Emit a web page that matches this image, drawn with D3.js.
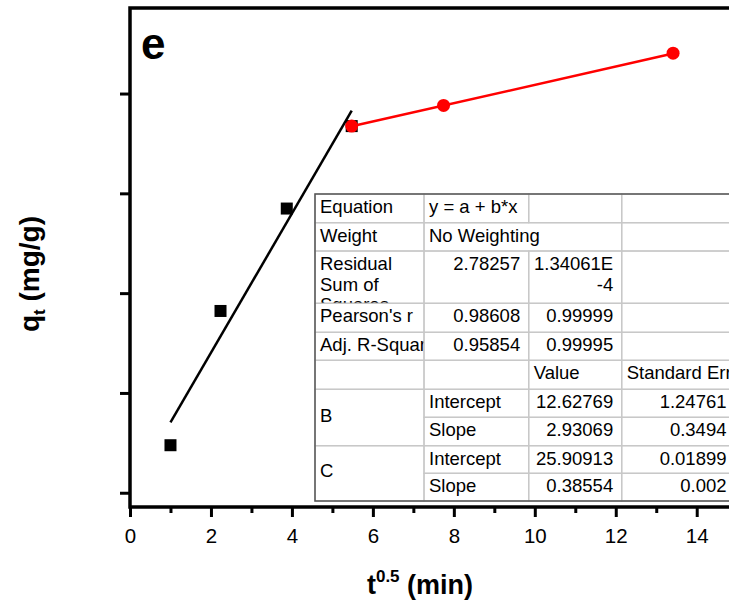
<!DOCTYPE html>
<html>
<head>
<meta charset="utf-8">
<script src="https://cdn.jsdelivr.net/npm/d3@7"></script>
<style>
  body { margin: 0; background: #fff; }
  svg { display: block; }
</style>
</head>
<body>
<svg width="729" height="603"></svg>
<script>
// stage B (film diffusion) and stage C (equilibrium) points
let tSqrtB = [1, 2.236, 3.873, 5.477];
let qtB = [14.6, 20.25, 24.56, 28.03];
let tSqrtC = [5.477, 7.746, 13.416];
let qtC = [28.03, 28.9, 31.1];

let xTicks = [0, 2, 4, 6, 8, 10, 12, 14];
let xMinorTicks = [1, 3, 5, 7, 9, 11, 13, 15];
let yTicks = [12.6, 16.8, 21.0, 25.2, 29.4];

// linear fit results (Origin table)
let fitNames = ["B", "C"];
let intercepts = [12.62769, 25.90913];
let interceptErrs = [1.24761, 0.01899];
let slopes = [2.93069, 0.38554];
let slopeErrs = [0.3494, 0.002];
let statLabels = ["Equation", "Weight", "Residual Sum of Squares", "Pearson's r", "Adj. R-Square"];
let statB = ["y = a + b*x", "No Weighting", "2.78257", "0.98608", "0.95854"];
let statC = ["", "", "1.34061E-4", "0.99999", "0.99995"];
let paramHeader = ["Value", "Standard Error"];
let paramNames = ["Intercept", "Slope"];

let svg = d3.select('svg')
svg.append('rect').attr('width', 729).attr('height', 603).attr('fill', '#fff')

let x = d3.scaleLinear().domain([0, 15]).range([130, 737.2])
let y = d3.scaleLinear().domain([12, 33]).range([507, 8])

let font = "Arial, 'Liberation Sans', sans-serif"

// axes
let xAxis = svg.append('g').attr('transform', 'translate(0,' + y(12) + ')')
  .call(d3.axisBottom(x).tickValues(xTicks).tickSize(10).tickPadding(11).tickFormat(d3.format('d')))
xAxis.select('.domain').remove()
xAxis.selectAll('line').attr('stroke-width', 3)
xAxis.selectAll('text').attr('font-family', font).attr('font-size', 20.5).attr('fill', '#000')

let xMinor = svg.append('g').attr('transform', 'translate(0,' + y(12) + ')')
  .call(d3.axisBottom(x).tickValues(xMinorTicks).tickSize(6).tickFormat(''))
xMinor.select('.domain').remove()
xMinor.selectAll('line').attr('stroke-width', 3)

let yAxis = svg.append('g').attr('transform', 'translate(' + x(0) + ',0)')
  .call(d3.axisLeft(y).tickValues(yTicks).tickSize(10).tickFormat(''))
yAxis.select('.domain').remove()
yAxis.selectAll('line').attr('stroke-width', 3)

// frame
svg.append('rect')
  .attr('x', x(0)).attr('y', y(33))
  .attr('width', x(15) - x(0)).attr('height', y(12) - y(33))
  .attr('fill', 'none').attr('stroke', '#000').attr('stroke-width', 3.5)

// fit lines
let fitLine = d3.line().x(d => x(d[0])).y(d => y(d[1]))
let rangeB = [tSqrtB[0], tSqrtB[tSqrtB.length - 1]]
let rangeC = [tSqrtC[0], tSqrtC[tSqrtC.length - 1]]
svg.append('path')
  .attr('d', fitLine(rangeB.map(t => [t, intercepts[0] + slopes[0] * t])))
  .attr('stroke', '#000').attr('stroke-width', 2.5).attr('fill', 'none')
svg.append('path')
  .attr('d', fitLine(rangeC.map(t => [t, intercepts[1] + slopes[1] * t])))
  .attr('stroke', '#ff0000').attr('stroke-width', 2.5).attr('fill', 'none')

// points
svg.selectAll('rect.ptB').data(tSqrtB).enter().append('rect')
  .attr('class', 'ptB')
  .attr('x', (t) => x(t) - 6)
  .attr('y', (t, i) => y(qtB[i]) - 6)
  .attr('width', 12).attr('height', 12)
  .attr('fill', '#000')
svg.selectAll('circle.ptC').data(tSqrtC).enter().append('circle')
  .attr('class', 'ptC')
  .attr('cx', (t) => x(t))
  .attr('cy', (t, i) => y(qtC[i]))
  .attr('r', 6.5)
  .attr('fill', '#ff0000')

// panel letter
svg.append('text').attr('x', 141).attr('y', 59).text('e')
  .attr('font-family', font).attr('font-weight', 'bold').attr('font-size', 44)

// axis titles
let xt = svg.append('text').attr('x', 420).attr('y', 594).attr('text-anchor', 'middle')
  .attr('font-family', font).attr('font-weight', 'bold').attr('font-size', 27)
xt.append('tspan').text('t')
xt.append('tspan').text('0.5').attr('font-size', 17).attr('dy', -12)
xt.append('tspan').text(' (min)').attr('dy', 12)

let yt = svg.append('text').attr('transform', 'translate(39,274) rotate(-90)').attr('text-anchor', 'middle')
  .attr('font-family', font).attr('font-weight', 'bold').attr('font-size', 28)
yt.append('tspan').text('q')
yt.append('tspan').text('t').attr('font-size', 17).attr('dy', 6)
yt.append('tspan').text(' (mg/g)').attr('dy', -6)

// results table
let colEdges = [315, 424, 528.7, 621.7, 735]
let rowEdges = [194, 222.7, 251, 303.3, 332.3, 360.3, 389.3, 417.3, 445.7, 473.3, 501]

let cells = []
statLabels.forEach(function(label, i) {
  cells.push({ c0: 0, c1: 1, r0: i, r1: i + 1, text: label, align: 'left' })
  if (i === 1) {
    cells.push({ c0: 1, c1: 3, r0: i, r1: i + 1, text: statB[i], align: 'left' })
  } else {
    cells.push({ c0: 1, c1: 2, r0: i, r1: i + 1, text: statB[i], align: i === 0 ? 'left' : 'right' })
    cells.push({ c0: 2, c1: 3, r0: i, r1: i + 1, text: statC[i], align: 'right' })
  }
  cells.push({ c0: 3, c1: 4, r0: i, r1: i + 1, text: '', align: 'left' })
})
cells.push({ c0: 0, c1: 1, r0: 5, r1: 6, text: '', align: 'left' })
cells.push({ c0: 1, c1: 2, r0: 5, r1: 6, text: '', align: 'left' })
cells.push({ c0: 2, c1: 3, r0: 5, r1: 6, text: paramHeader[0], align: 'left' })
cells.push({ c0: 3, c1: 4, r0: 5, r1: 6, text: paramHeader[1], align: 'left' })
fitNames.forEach(function(name, k) {
  let r = 6 + k * 2
  cells.push({ c0: 0, c1: 1, r0: r, r1: r + 2, text: name, align: 'left', middle: true })
  cells.push({ c0: 1, c1: 2, r0: r, r1: r + 1, text: paramNames[0], align: 'left' })
  cells.push({ c0: 2, c1: 3, r0: r, r1: r + 1, text: String(intercepts[k]), align: 'right' })
  cells.push({ c0: 3, c1: 4, r0: r, r1: r + 1, text: String(interceptErrs[k]), align: 'right' })
  cells.push({ c0: 1, c1: 2, r0: r + 1, r1: r + 2, text: paramNames[1], align: 'left' })
  cells.push({ c0: 2, c1: 3, r0: r + 1, r1: r + 2, text: String(slopes[k]), align: 'right' })
  cells.push({ c0: 3, c1: 4, r0: r + 1, r1: r + 2, text: String(slopeErrs[k]), align: 'right' })
})

// how some long entries wrap inside their cells
let wrapped = {
  'Residual Sum of Squares': ['Residual', 'Sum of', 'Squares'],
  '1.34061E-4': ['1.34061E', '-4']
}

let table = svg.append('g')
table.append('rect')
  .attr('x', colEdges[0]).attr('y', rowEdges[0])
  .attr('width', colEdges[4] - colEdges[0]).attr('height', rowEdges[10] - rowEdges[0])
  .attr('fill', '#fff')

let defs = svg.append('defs')
cells.forEach(function(c, i) {
  let x0 = colEdges[c.c0], x1 = colEdges[c.c1]
  let y0 = rowEdges[c.r0], y1 = rowEdges[c.r1]
  defs.append('clipPath').attr('id', 'cell' + i)
    .append('rect').attr('x', x0).attr('y', y0).attr('width', x1 - x0).attr('height', y1 - y0)
  table.append('rect')
    .attr('x', x0).attr('y', y0).attr('width', x1 - x0).attr('height', y1 - y0)
    .attr('fill', 'none').attr('stroke', '#c8c8c8').attr('stroke-width', 1.3)
  if (!c.text) return
  let lines = wrapped[c.text] || [c.text]
  let base = c.middle ? (y0 + y1) / 2 + 4 : y0 + 18.8
  let t = table.append('text')
    .attr('clip-path', 'url(#cell' + i + ')')
    .attr('font-family', font).attr('font-size', 18.5).attr('fill', '#000')
    .attr('text-anchor', c.align === 'right' ? 'end' : 'start')
  lines.forEach(function(line, j) {
    t.append('tspan')
      .attr('x', c.align === 'right' ? x1 - 8.5 : x0 + 5)
      .attr('y', base + j * 20.7)
      .text(line)
  })
})
// outer border of the table
table.append('rect')
  .attr('x', colEdges[0]).attr('y', rowEdges[0])
  .attr('width', colEdges[4] - colEdges[0]).attr('height', rowEdges[10] - rowEdges[0])
  .attr('fill', 'none').attr('stroke', '#555').attr('stroke-width', 1.5)
</script>
</body>
</html>
